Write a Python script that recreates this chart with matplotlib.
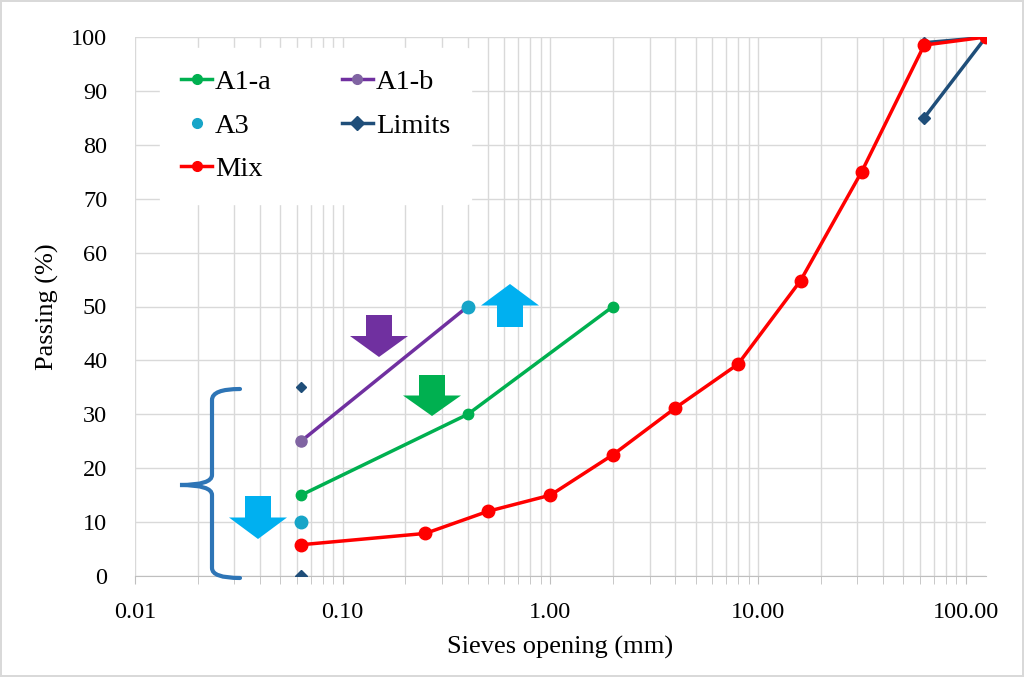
import numpy as np
import matplotlib.pyplot as plt
from matplotlib.patches import FancyArrow, PathPatch
from matplotlib.path import Path
from matplotlib.ticker import FixedLocator, LogLocator, NullFormatter

plt.rcParams['font.family'] = ['Liberation Serif', 'DejaVu Serif']

# Sieve data (mm, % passing)
mix_x = [0.063, 0.25, 0.5, 1, 2, 4, 8, 16, 31.5, 63, 125]
mix_y = [5.8, 7.9, 12, 15, 22.5, 31.2, 39.3, 54.8, 75, 98.5, 100]
a1a_x = [0.063, 0.4, 2]
a1a_y = [15, 30, 50]
a1b_x = [0.063, 0.4]
a1b_y = [25, 50]
a3_x = [0.063, 0.4]
a3_y = [10, 50]
lim_low_x = [0.063, 1, 63, 125]
lim_low_y = [0, np.nan, 85, 100]
lim_up_x = [0.063, 1, 63, 125]
lim_up_y = [35, np.nan, 99, 100]

x_ticks = [0.01, 0.1, 1, 10, 100]
x_labels = ['0.01', '0.10', '1.00', '10.00', '100.00']

c_green = '#00B050'
c_purple = '#7030A0'
c_a3 = '#17A5C8'
c_lim = '#1F4E79'
c_red = '#FF0000'
c_cyan = '#00B0F0'

fig = plt.figure(figsize=(10.24, 6.77), dpi=100)
fig.patch.set_edgecolor('#D9D9D9')
fig.patch.set_linewidth(1.5)
ax = fig.add_axes([135 / 1024, 1 - 576 / 677, 851 / 1024, 539 / 677])

h_lu, = ax.plot(lim_up_x, lim_up_y, color=c_lim, lw=2, marker='D', ms=5, zorder=3)
h_lim, = ax.plot(lim_low_x, lim_low_y, color=c_lim, lw=2.5, marker='D', ms=6, zorder=3,
                 label='Limits')
h_b, = ax.plot(a1b_x, a1b_y, color=c_purple, lw=2.5, marker='o', ms=8,
               markerfacecolor='#8064A2', markeredgecolor='#8064A2', label='A1-b', zorder=4)
h_a, = ax.plot(a1a_x, a1a_y, color=c_green, lw=2.5, marker='o', ms=7.5, label='A1-a', zorder=4)
h_3, = ax.plot(a3_x, a3_y, color=c_a3, lw=0, marker='o', ms=9, label='A3', zorder=5)
h_m, = ax.plot(mix_x, mix_y, color=c_red, lw=2.5, marker='o', ms=9, label='Mix', zorder=6)

ax.set_xscale('log')
ax.set_xlim(0.01, 125)
ax.set_ylim(0, 100)
ax.xaxis.set_major_locator(FixedLocator(x_ticks))
ax.set_xticklabels(x_labels)
ax.xaxis.set_minor_locator(LogLocator(base=10, subs=np.arange(2, 10)))
ax.xaxis.set_minor_formatter(NullFormatter())
ax.set_yticks(np.arange(0, 101, 10))
ax.grid(True, which='both', axis='x', color='#D9D9D9', lw=1)
ax.grid(True, which='major', axis='y', color='#D9D9D9', lw=1)
ax.set_axisbelow(True)
for s in ['top', 'right', 'left']:
    ax.spines[s].set_visible(False)
ax.spines['bottom'].set_color('#BFBFBF')
ax.tick_params(axis='y', length=0, labelsize=17.5, pad=20)
ax.tick_params(axis='x', which='both', length=6, color='#BFBFBF', direction='out',
               labelsize=17.5, pad=13)
ax.set_xlabel('Sieves opening (mm)', fontsize=19, labelpad=9)
ax.set_ylabel('Passing (%)', fontsize=19, labelpad=9)

leg = ax.legend([h_a, h_3, h_m, h_b, h_lim], ['A1-a', 'A3', 'Mix', 'A1-b', 'Limits'],
                ncol=2, loc='upper left', bbox_to_anchor=(0.029, 0.98), fontsize=20.5,
                frameon=True, framealpha=1, edgecolor='white', handlelength=1.1,
                handletextpad=0.1, columnspacing=2.45, labelspacing=0.62, borderpad=0.75,
                borderaxespad=0)
for h in leg.legend_handles:
    h.set_markersize(7)


def px(x, y):
    return ((x - 135) / 851, (576 - y) / 539)


# block arrows (axes fraction)
def block_arrow(cx, y0, y1, color):
    x0, a = px(cx, y0)
    _, b = px(cx, y1)
    ax.add_patch(FancyArrow(x0, a, 0, b - a, width=26 / 851, head_width=58 / 851,
                            head_length=abs(b - a) * 0.5, length_includes_head=True,
                            transform=ax.transAxes, color=color, lw=0, zorder=7,
                            clip_on=False))


block_arrow(379, 315, 357, c_purple)
block_arrow(432, 375, 416, c_green)
block_arrow(510, 327, 284, c_cyan)
block_arrow(258, 496, 539, c_cyan)

# brace
pts = [px(240, 389), px(212, 389), px(212, 400), px(212, 475), px(212, 485), px(180, 485),
       px(212, 485), px(212, 495), px(212, 568), px(212, 578), px(240, 578)]
codes = [Path.MOVETO, Path.CURVE3, Path.CURVE3, Path.LINETO, Path.CURVE3, Path.CURVE3,
         Path.CURVE3, Path.CURVE3, Path.LINETO, Path.CURVE3, Path.CURVE3]
ax.add_patch(PathPatch(Path(pts, codes), transform=ax.transAxes, fill=False,
                       edgecolor='#2E75B6', lw=3, clip_on=False, zorder=7,
                       capstyle='round'))

fig.savefig('out.png', dpi=100, edgecolor=fig.get_edgecolor())
